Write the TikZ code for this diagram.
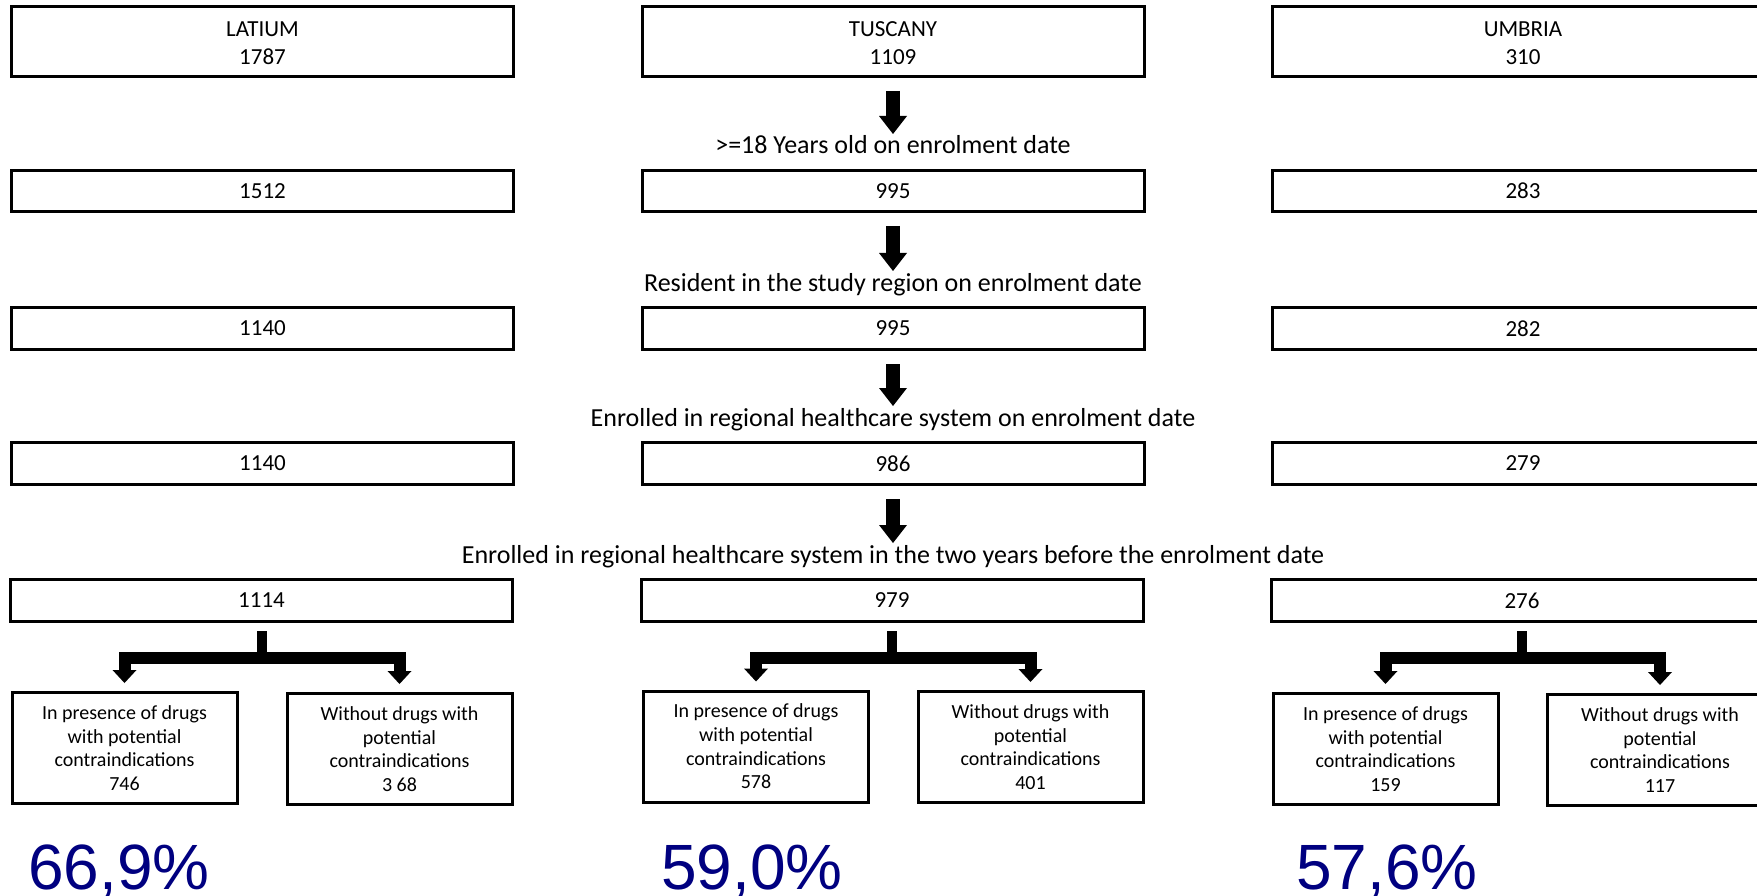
\documentclass[tikz,border=0pt]{standalone}
\usepackage{fontspec}
\setmainfont{Carlito}
\newfontfamily\arialfont{Liberation Sans}
\definecolor{pctblue}{RGB}{0,0,128}
\newcommand{\twoline}[2]{\raisebox{-3pt}[\height][\depth]{\begin{tabular}{@{}c@{}}#1\\#2\end{tabular}}}
\begin{document}
\begin{tikzpicture}[x=1pt,y=1pt,
  mainbox/.style={draw=black, line width=3pt, minimum width=502pt, inner sep=0pt, align=center, font=\fontsize{23}{28}\selectfont},
  subbox/.style={draw=black, line width=3pt, minimum width=225pt, minimum height=111pt, inner sep=0pt, align=center, font=\fontsize{20}{23.7}\selectfont},
  steplabel/.style={anchor=base, inner sep=0pt, font=\fontsize{26}{30}\selectfont},
  shaft/.style={line width=14pt},
  stemline/.style={line width=10pt},
  barline/.style={line width=12pt, line join=miter},
  headtip/.style={fill=black},
  pct/.style={anchor=base west, inner sep=0pt, text=pctblue, font=\arialfont\fontsize{64}{70}\selectfont}
]
\useasboundingbox (0,0) rectangle (1757,-896);
\clip (0,0) rectangle (1757,-896);

% main boxes
\node[mainbox, minimum height=70pt] (L1) at (262.5,-41.5) {\twoline{LATIUM}{1787}};
\node[mainbox, minimum height=70pt] (T1) at (893,-41.5) {\twoline{TUSCANY}{1109}};
\node[mainbox, minimum height=70pt] (U1) at (1523,-41.5) {\twoline{UMBRIA}{310}};

\node[mainbox, minimum height=41pt] (L2) at (262.5,-191) {1512};
\node[mainbox, minimum height=41pt] (T2) at (893,-191) {995};
\node[mainbox, minimum height=41pt] (U2) at (1523,-191) {283};

\node[mainbox, minimum height=42pt] (L3) at (262.5,-328.5) {1140};
\node[mainbox, minimum height=42pt] (T3) at (893,-328.5) {995};
\node[mainbox, minimum height=42pt] (U3) at (1523,-328.5) {282};

\node[mainbox, minimum height=42pt] (L4) at (262.5,-463.5) {1140};
\node[mainbox, minimum height=42pt] (T4) at (893,-463.5) {986};
\node[mainbox, minimum height=42pt] (U4) at (1523,-463.5) {279};

\node[mainbox, minimum height=42pt] (L5) at (261.5,-600.5) {1114};
\node[mainbox, minimum height=42pt] (T5) at (892,-600.5) {979};
\node[mainbox, minimum height=42pt] (U5) at (1522,-600.5) {276};

% step labels
\node[steplabel] (lab1) at (893,-154) {>=18 Years old on enrolment date};
\node[steplabel] (lab2) at (893,-291) {Resident in the study region on enrolment date};
\node[steplabel] (lab3) at (893,-426) {Enrolled in regional healthcare system on enrolment date};
\node[steplabel] (lab4) at (893,-563) {Enrolled in regional healthcare system in the two years before the enrolment date};

% main arrows
\foreach \b/\l in {T1/lab1,T2/lab2,T3/lab3,T4/lab4}{
  \draw[shaft] ([yshift=-13pt]\b.south) -- ([yshift=37pt]\l.base);
  \fill[headtip] ([shift={(-14pt,38pt)}]\l.base) -- ([shift={(14pt,38pt)}]\l.base) -- ([yshift=20pt]\l.base) -- cycle;
}

% sub boxes
\node[subbox] (La) at (124.5,-748) {In presence of drugs\\with potential\\contraindications\\746};
\node[subbox] (Lb) at (399.5,-749) {Without drugs with\\potential\\contraindications\\3 68};
\node[subbox] (Ta) at (756,-746.5) {In presence of drugs\\with potential\\contraindications\\578};
\node[subbox] (Tb) at (1030.5,-747) {Without drugs with\\potential\\contraindications\\401};
\node[subbox] (Ua) at (1385.5,-749) {In presence of drugs\\with potential\\contraindications\\159};
\node[subbox] (Ub) at (1660,-750) {Without drugs with\\potential\\contraindications\\117};

% branch connectors
\foreach \m/\a/\c in {L5/La/Lb,T5/Ta/Tb,U5/Ua/Ub}{
  \draw[stemline] ([yshift=-8pt]\m.south) -- ([yshift=-34.5pt]\m.south) coordinate (\m j);
  \foreach \s in {\a,\c}{
    \draw[barline] (\m j) -| ([yshift=20pt]\s.north);
    \fill[headtip] ([shift={(-12pt,21pt)}]\s.north) -- ([shift={(12pt,21pt)}]\s.north) -- ([yshift=8pt]\s.north) -- cycle;
  }
}

% percentages
\node[pct] (pL) at (28,-889) {66,9\%};
\node[pct] (pT) at (661,-889) {59,0\%};
\node[pct] (pU) at (1296,-889) {57,6\%};
\end{tikzpicture}
\end{document}
